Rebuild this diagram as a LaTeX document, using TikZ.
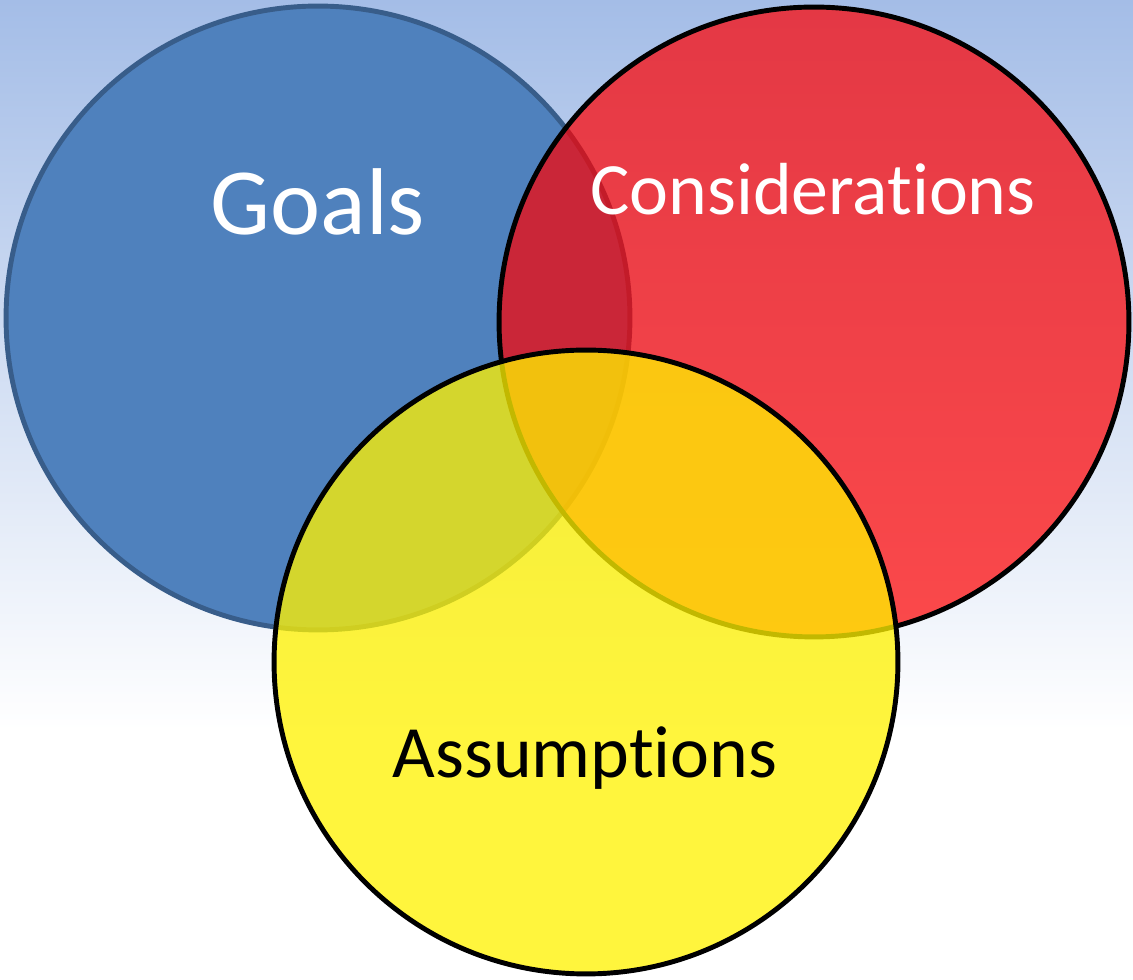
\documentclass[tikz,border=0pt]{standalone}
\usepackage{fontspec}
\setmainfont{Carlito}[Ligatures=NoCommon]
\usepackage{tikz}
\usetikzlibrary{shapes.geometric, positioning}
\definecolor{skytop}{RGB}{164,189,231}
\definecolor{goalblue}{RGB}{79,129,189}
\definecolor{goalline}{RGB}{56,93,138}
\tikzstyle{goalset} = [circle, inner sep=0pt, draw=goalline, line width=2.8pt, fill=goalblue]
\tikzstyle{consset} = [circle, inner sep=0pt, draw=black, line width=2.8pt, fill=red, fill opacity=0.7, draw opacity=1]
\tikzstyle{assumset} = [circle, inner sep=0pt, draw=black, line width=2.8pt, fill=yellow, fill opacity=0.76, draw opacity=1]
\tikzstyle{setname} = [anchor=base, inner sep=0pt]

\begin{document}
\begin{tikzpicture}[x=0.02cm, y=0.02cm]
% background
\useasboundingbox (0,0) rectangle (1133,980);
\fill[white] (0,0) rectangle (1133,250);
\shade[top color=skytop, bottom color=white] (0,250) rectangle (1133,980);

% the three sets
\node (goals) [goalset, minimum size=12.48cm] at (318,662) {};
\node (cons) [consset, minimum size=12.6cm] at (814,658) {};
\node (assum) [assumset, minimum size=12.48cm] at (586,318) {};

% names
\node (goalsname) [setname, text=white] at (318,745) {\fontsize{54}{64}\selectfont Goals};
\node (consname) [setname, text=white] at (813,765) {\fontsize{42}{50}\selectfont Considerations};
\node (assumname) [setname, text=black] at (585,202) {\fontsize{42}{50}\selectfont Assumptions};
\end{tikzpicture}
\end{document}
